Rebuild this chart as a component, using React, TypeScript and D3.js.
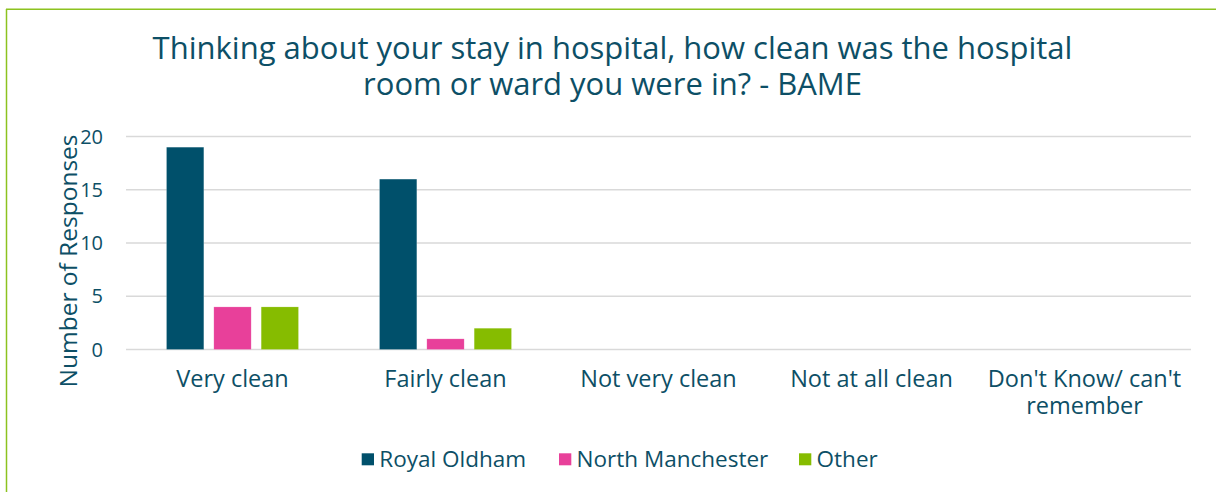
import React from "react";
import * as d3 from "d3";

const categories = ["Very clean", "Fairly clean", "Not very clean", "Not at all clean", "Don't Know/ can't remember"];
const seriesNames = ["Royal Oldham", "North Manchester", "Other"];
const royalOldham = [19, 16, 0, 0, 0];
const northManchester = [4, 1, 0, 0, 0];
const other = [4, 2, 0, 0, 0];
const yTicks = [0, 5, 10, 15, 20];
const titleLines = ["Thinking about your stay in hospital, how clean was the hospital", "room or ward you were in? - BAME"];
const yAxisTitle = "Number of Responses";

const colors = ["#00506b", "#e8409a", "#86bc00"];
const textColor = "#0d4f66";
const FONT = "'Open Sans', 'DejaVu Sans', sans-serif";

const W = 1216;
const H = 492;
const plot = { left: 126, right: 1191, top: 136.5, bottom: 349.5 };

function wrapLabel(label: string): string[] {
  if (label.length > 18) {
    const idx = label.lastIndexOf(" ");
    return [label.slice(0, idx), label.slice(idx + 1)];
  }
  return [label];
}

export default function App() {
  const values = [royalOldham, northManchester, other];
  const x0 = d3.scaleBand<string>().domain(categories).range([plot.left, plot.right]).padding(0);
  const x1 = d3
    .scaleBand<string>()
    .domain(seriesNames)
    .range([40.5, x0.bandwidth() - 40.5])
    .paddingInner(0.211)
    .paddingOuter(0);
  const y = d3.scaleLinear().domain([0, 20]).range([plot.bottom, plot.top]);

  const legendItems = [
    { name: seriesNames[0], x: 361.7 },
    { name: seriesNames[1], x: 559 },
    { name: seriesNames[2], x: 799 },
  ];

  return (
    <svg
      width={W}
      height={H}
      style={{ position: "absolute", left: 0, top: 0, background: "#fff" }}
      fontFamily={FONT}
    >
      <rect x={0} y={0} width={W} height={H} fill="#fff" />
      <line x1={6.5} y1={9} x2={6.5} y2={H} stroke="#8cc21f" strokeWidth={1.5} />
      <line x1={6} y1={9.3} x2={W} y2={9.3} stroke="#8cc21f" strokeWidth={1.5} />

      <text textAnchor="middle" fontSize={31} fill={textColor}>
        {titleLines.map((t, i) => (
          <tspan key={i} x={612.5} y={59 + i * 36}>
            {t}
          </tspan>
        ))}
      </text>

      {yTicks.map((t) => (
        <g key={t}>
          <line
            x1={plot.left}
            x2={plot.right}
            y1={y(t)}
            y2={y(t)}
            stroke="#d9d9d9"
            strokeWidth={1.5}
          />
          <text
            x={103}
            y={y(t)}
            dy="0.36em"
            textAnchor="end"
            fontSize={20}
            fill={textColor}
          >
            {t}
          </text>
        </g>
      ))}

      <text
        transform={`translate(77,261) rotate(-90)`}
        textAnchor="middle"
        fontSize={24.5}
        fill={textColor}
      >
        {yAxisTitle}
      </text>

      {categories.map((c, ci) => (
        <g key={c} transform={`translate(${x0(c)},0)`}>
          {seriesNames.map((s, si) => {
            const v = values[si][ci];
            if (v <= 0) return null;
            return (
              <rect
                key={s}
                x={x1(s)}
                y={y(v)}
                width={x1.bandwidth()}
                height={y(0) - y(v)}
                fill={colors[si]}
                stroke="#ffffff"
                strokeOpacity={0.4}
                strokeWidth={0.5}
              />
            );
          })}
          <text textAnchor="middle" fontSize={23.5} fill={textColor}>
            {wrapLabel(c).map((line, li) => (
              <tspan key={li} x={x0.bandwidth() / 2} y={386.7 + li * 27.7}>
                {line}
              </tspan>
            ))}
          </text>
        </g>
      ))}

      {legendItems.map((item, i) => (
        <g key={item.name} transform={`translate(${item.x},0)`}>
          <rect x={0} y={453.3} width={12.3} height={12} fill={colors[i]} />
          <text x={17.6} y={466.7} fontSize={22.5} fill={textColor}>
            {item.name}
          </text>
        </g>
      ))}
    </svg>
  );
}
